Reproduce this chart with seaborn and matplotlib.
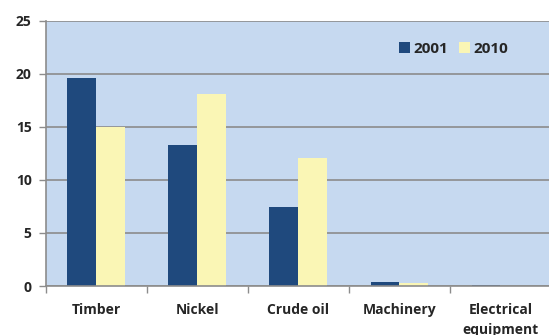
import matplotlib
matplotlib.use("Agg")
import matplotlib.pyplot as plt
import seaborn as sns
import pandas as pd
from matplotlib.ticker import FixedLocator, NullFormatter

categories = ["Timber", "Nickel", "Crude oil", "Machinery", "Electrical\nequipment"]
years = ["2001", "2010"]
values_2001 = [19.6, 13.3, 7.45, 0.4, 0.1]
values_2010 = [15.0, 18.1, 12.1, 0.25, 0.03]
yticks = [0, 5, 10, 15, 20, 25]

df = pd.DataFrame({
    "category": categories * 2,
    "year": [years[0]] * len(categories) + [years[1]] * len(categories),
    "value": values_2001 + values_2010,
})

sns.set_theme(style="white")
plt.rcParams['font.family'] = ['Open Sans', 'DejaVu Sans']

fig = plt.figure(figsize=(5.49, 3.35), dpi=100)
ax = fig.add_axes([45.5 / 549, 1 - 286 / 335, (551 - 45.5) / 549, (286 - 20.7) / 335])

palette = {"2001": "#1F497D", "2010": "#FAF6B5"}
sns.barplot(data=df, x="category", y="value", hue="year", order=categories,
            hue_order=years, palette=palette, width=0.57, ax=ax,
            edgecolor="none", linewidth=0, saturation=1)

ax.set_facecolor("#C6D9F0")
ax.set_xlim(-0.5, len(categories) - 0.5)
ax.set_ylim(0, 25)
ax.set_yticks(yticks)
ax.set_yticklabels([str(v) for v in yticks], fontweight="bold", fontsize=10)
ax.grid(axis="y", color="#8C8C8C", linewidth=1.2)
ax.set_axisbelow(True)
ax.set_xlabel("")
ax.set_ylabel("")

ax.set_xticks(range(len(categories)))
ax.set_xticklabels(categories, fontweight="bold", fontsize=10, linespacing=1.6)
ax.tick_params(axis="x", which="major", length=0, pad=12)
ax.xaxis.set_minor_locator(FixedLocator([i - 0.5 for i in range(len(categories) + 1)]))
ax.xaxis.set_minor_formatter(NullFormatter())
ax.tick_params(axis="x", which="minor", length=5, width=1, color="#8C8C8C", direction="out", bottom=True)
ax.tick_params(axis="y", length=5, width=1, color="#8C8C8C", direction="out", left=True, pad=5)

for side in ["top", "right"]:
    ax.spines[side].set_visible(False)
for side in ["left", "bottom"]:
    ax.spines[side].set_color("#8C8C8C")
    ax.spines[side].set_linewidth(1.2)

handles, labels = ax.get_legend_handles_labels()
leg = ax.legend(handles, labels, ncol=2, frameon=False, loc="center left",
                bbox_to_anchor=(0.699, 0.895), borderaxespad=0, borderpad=0,
                handlelength=0.75, handleheight=0.75,
                handletextpad=0.2, columnspacing=0.7,
                prop={"weight": "bold", "size": 11})

fig.savefig("out.png", dpi=100, facecolor="white")
